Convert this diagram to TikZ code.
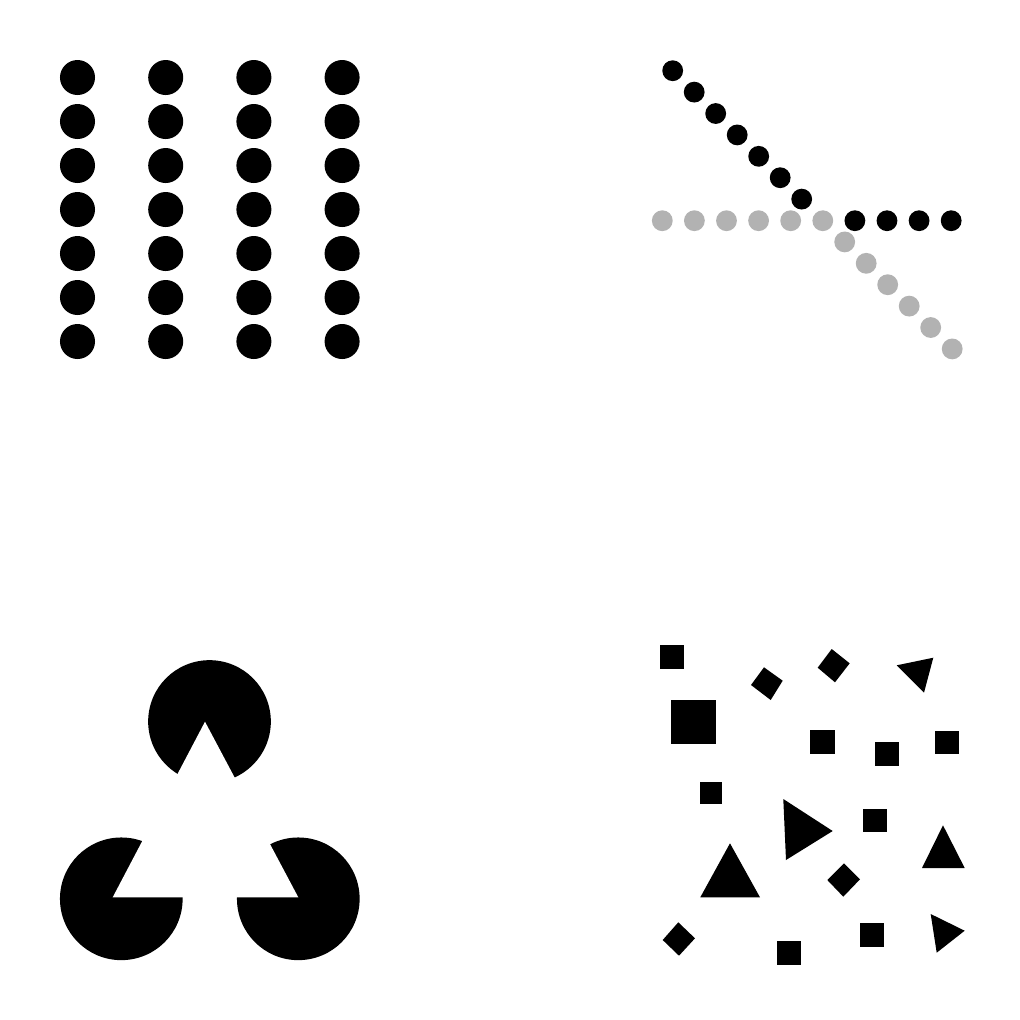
\documentclass[tikz,border=0pt]{standalone}
\definecolor{dotgray}{RGB}{178,178,178}
\begin{document}
\begin{tikzpicture}[x=0.01cm,y=-0.01cm,
  blk/.style={fill=black},
  gry/.style={fill=dotgray}]
\useasboundingbox (0,0) rectangle (1020,1020);
\fill[white] (0,0) rectangle (1020,1020);
% --- top left: proximity grid
\foreach \i in {0,...,3}{
  \foreach \j in {0,...,6}{
    \fill[blk] ({77.5+88.2*\i},{77.5+44*\j}) circle[radius=0.175cm];
  }
}
% --- top right: continuity
\foreach \k in {0,...,9}{
  \ifnum\k<6
    \fill[gry] ({662.3+32.1*\k},220.7) circle[radius=0.104cm];
  \else
    \fill[blk] ({662.3+32.1*\k},220.7) circle[radius=0.104cm];
  \fi
}
\foreach \k in {0,...,6}{
  \fill[blk] ({672.7+21.5*\k},{70.7+21.4*\k}) circle[radius=0.104cm];
}
\foreach \k in {8,...,13}{
  \fill[gry] ({672.7+21.5*\k},{70.7+21.4*\k}) circle[radius=0.104cm];
}
% --- bottom left: Kanizsa triangle
\fill[blk] (209.5,721.5) circle[radius=0.613cm];
\fill[blk] (121.3,898.8) circle[radius=0.613cm];
\fill[blk] (298.3,898.8) circle[radius=0.613cm];
\fill[white] (205,721.7) -- (112.7,897.3) -- (298.3,897.3) -- cycle;
% --- bottom right: scattered shapes
\fill[blk] (660,645) rectangle (684,668.7);
\fill[blk] (751,685) -- (764,667.3) -- (782.7,680.7) -- (770.7,700) -- cycle;
\fill[blk] (817.7,667.7) -- (831.7,649) -- (849.7,663.3) -- (835,682.3) -- cycle;
\fill[blk] (896.7,665.3) -- (933.3,657.7) -- (924,692.7) -- cycle;
\fill[blk] (671,699.7) rectangle (715.7,744.3);
\fill[blk] (810.3,730) rectangle (834.7,754);
\fill[blk] (875.3,742) rectangle (899.3,765.7);
\fill[blk] (935.3,730.7) rectangle (959.3,754.3);
\fill[blk] (700,781.7) rectangle (722.3,804.3);
\fill[blk] (783.3,799) -- (832.7,831) -- (786,860) -- cycle;
\fill[blk] (863,808.7) rectangle (887,832.3);
\fill[blk] (943,825.3) -- (964.7,868) -- (922,868) -- cycle;
\fill[blk] (730,843.3) -- (760,897.3) -- (700.3,897.3) -- cycle;
\fill[blk] (844,863.3) -- (860,879.3) -- (843.3,896.7) -- (827.3,880) -- cycle;
\fill[blk] (678.3,922.3) -- (695,938.3) -- (679,955.7) -- (662.7,940) -- cycle;
\fill[blk] (777,941) rectangle (801.3,964.7);
\fill[blk] (859.7,923.3) rectangle (883.7,946.7);
\fill[blk] (930.7,914) -- (964.7,930.7) -- (936.7,952.7) -- cycle;
\end{tikzpicture}
\end{document}
